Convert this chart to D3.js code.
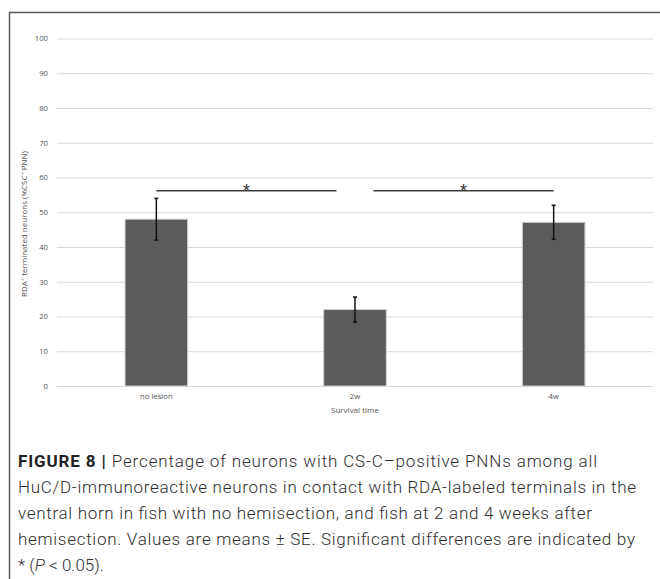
<!doctype html>
<html>
  <head>
    <script src="https://cdn.jsdelivr.net/npm/d3@7"></script>
    <style>
      body { margin: 0; background: #fff; }
      .tick text { fill: #555; font-family: "Open Sans", "Liberation Sans", Arial, sans-serif; }
    </style>
  </head>
  <body>
    <div id="my_dataviz"></div>
    <script>
      // data
      var categories = ["no lesion", "2w", "4w"];
      var means = [48, 22, 47.1];
      var errors = [6, 3.6, 4.9];
      var yTicks = [0, 10, 20, 30, 40, 50, 60, 70, 80, 90, 100];
      var sigPairs = [["no lesion", "2w"], ["2w", "4w"]];
      var sigLevel = 56.2;
      var captionLines = [
        "Percentage of neurons with CS-C\u2013positive PNNs among all",
        "HuC/D-immunoreactive neurons in contact with RDA-labeled terminals in the",
        "ventral horn in fish with no hemisection, and fish at 2 and 4 weeks after",
        "hemisection. Values are means \u00b1 SE. Significant differences are indicated by",
        "* (P < 0.05)."
      ];
      var captionWidths = [579, 618, 574, 617, null];

      var W = 660, H = 579;
      var svg = d3.select("#my_dataviz")
        .append("svg")
          .attr("width", W)
          .attr("height", H);

      // figure frame (left and top edges)
      svg.append("path")
        .attr("d", "M9.5," + H + "V12.5H" + W)
        .attr("fill", "none")
        .attr("stroke", "#5a5a5a")
        .attr("stroke-width", 1.5);

      var plot = {left: 57, right: 653, top: 38.5, bottom: 386};

      var x = d3.scaleBand()
        .domain(categories)
        .range([plot.left, plot.right])
        .padding(0);

      var y = d3.scaleLinear()
        .domain([0, 100])
        .range([plot.bottom, plot.top]);

      // gridlines + y tick labels
      var yAxis = svg.append("g")
        .attr("transform", "translate(" + plot.left + ",0)")
        .call(d3.axisLeft(y)
          .tickValues(yTicks)
          .tickSize(-(plot.right - plot.left))
          .tickPadding(9));
      yAxis.select(".domain").remove();
      yAxis.selectAll(".tick line")
        .attr("stroke", "#d9d9d9")
        .attr("stroke-width", 1);
      yAxis.selectAll(".tick text").style("font-size", "7.7px");

      // category labels
      var xAxis = svg.append("g")
        .attr("transform", "translate(0," + plot.bottom + ")")
        .call(d3.axisBottom(x).tickSize(0).tickPadding(8));
      xAxis.select(".domain").remove();
      xAxis.selectAll(".tick text").style("font-size", "7.7px");

      // bars
      var barW = x.bandwidth() * 0.315;
      var center = function(c) { return x(c) + x.bandwidth() / 2; };

      svg.selectAll("myBars")
        .data(categories)
        .enter()
        .append("rect")
          .attr("x", function(d) { return center(d) - barW / 2; })
          .attr("y", function(d, i) { return y(means[i]); })
          .attr("width", barW)
          .attr("height", function(d, i) { return y(0) - y(means[i]); })
          .attr("fill", "#5b5b5b")
          .attr("stroke", "#cfcfcf")
          .attr("stroke-width", 1);

      // error bars
      var err = svg.selectAll("myErr")
        .data(categories)
        .enter()
        .append("g")
          .attr("stroke", "#111")
          .attr("stroke-width", 1.5);
      err.append("line")
        .attr("x1", function(d) { return center(d); })
        .attr("x2", function(d) { return center(d); })
        .attr("y1", function(d, i) { return y(means[i] + errors[i]); })
        .attr("y2", function(d, i) { return y(means[i] - errors[i]); });
      [1, -1].forEach(function(s) {
        err.append("line")
          .attr("x1", function(d) { return center(d) - 2; })
          .attr("x2", function(d) { return center(d) + 2; })
          .attr("y1", function(d, i) { return y(means[i] + s * errors[i]); })
          .attr("y2", function(d, i) { return y(means[i] + s * errors[i]); });
      });

      // significance brackets
      var gap = 18.5;
      var sig = svg.selectAll("mySig")
        .data(sigPairs)
        .enter()
        .append("g");
      sig.append("line")
        .attr("x1", function(d, i) { return center(d[0]) + (i == 1 ? gap : 0); })
        .attr("x2", function(d, i) { return center(d[1]) - (i == 0 ? gap : 0); })
        .attr("y1", y(sigLevel))
        .attr("y2", y(sigLevel))
        .attr("stroke", "#3f3f3f")
        .attr("stroke-width", 1.5);
      sig.append("text")
        .attr("x", function(d, i) {
          var a = center(d[0]) + (i == 1 ? gap : 0), b = center(d[1]) - (i == 0 ? gap : 0);
          return (a + b) / 2;
        })
        .attr("y", y(sigLevel) + 6.5)
        .attr("text-anchor", "middle")
        .style("font-family", "Liberation Sans, Arial, sans-serif")
        .style("font-size", "18px")
        .style("fill", "#333")
        .text("*");

      // axis titles
      svg.append("text")
        .attr("x", (plot.left + plot.right) / 2)
        .attr("y", 413)
        .attr("text-anchor", "middle")
        .style("font-family", "Open Sans, Liberation Sans, Arial, sans-serif")
        .style("font-size", "8px")
        .style("fill", "#555")
        .text("Survival time");

      var yt = svg.append("text")
        .attr("transform", "translate(27,224) rotate(-90)")
        .attr("text-anchor", "middle")
        .style("font-family", "Open Sans, Liberation Sans, Arial, sans-serif")
        .style("font-size", "8px")
        .style("fill", "#555");
      yt.append("tspan").text("RDA");
      yt.append("tspan").attr("dy", -2.5).style("font-size", "5.5px").text("+");
      yt.append("tspan").attr("dy", 2.5).text(" terminated neurons (%CSC");
      yt.append("tspan").attr("dy", -2.5).style("font-size", "5.5px").text("+");
      yt.append("tspan").attr("dy", 2.5).text(" PNN)");

      // caption
      var cap = svg.append("g")
        .style("font-family", "Roboto, Liberation Sans, Arial, sans-serif")
        .style("font-size", "17px")
        .style("font-weight", 300)
        .style("fill", "#2e2e2e");
      captionLines.forEach(function(line, i) {
        var t = cap.append("text")
          .attr("x", 18)
          .attr("y", 467 + i * 26);
        if (captionWidths[i]) t.attr("textLength", captionWidths[i]);
        if (i == 0) {
          t.append("tspan").style("font-weight", "bold").style("fill", "#222").text("FIGURE 8 | ");
          t.append("tspan").text(line);
        } else if (i == captionLines.length - 1) {
          t.append("tspan").text("* (");
          t.append("tspan").style("font-style", "italic").text("P");
          t.append("tspan").text(" < 0.05).");
        } else {
          t.text(line);
        }
      });
    </script>
  </body>
</html>
